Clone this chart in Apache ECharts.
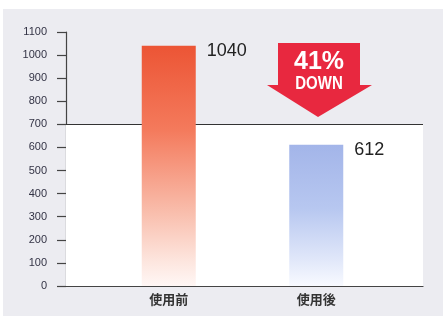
<!DOCTYPE html>
<html>
<head>
<meta charset="utf-8">
<script src="https://cdn.jsdelivr.net/npm/echarts@6/dist/echarts.min.js"></script>
<style>
html,body{margin:0;padding:0;background:#ffffff;}
#c{width:446px;height:316px;}
</style>
</head>
<body>
<div id="c"></div>
<script>
var categories = ['使用前', '使用後'];
var values = [1040, 612];
var yTicks = [0, 100, 200, 300, 400, 500, 600, 700, 800, 900, 1000, 1100];
var referenceLine = 700;
var badgeLines = ['41%', 'DOWN'];

var gradients = [
  {type:'linear', x:0, y:0, x2:0, y2:1, colorStops:[
    {offset:0, color:'#ec5535'}, {offset:0.35, color:'#f47a5c'},
    {offset:0.7, color:'#f9bfae'}, {offset:0.9, color:'#fde6df'}, {offset:1, color:'#fff7f5'}]},
  {type:'linear', x:0, y:0, x2:0, y2:1, colorStops:[
    {offset:0, color:'#a3b5e9'}, {offset:0.45, color:'#b7c7f0'},
    {offset:0.8, color:'#dfe6f9'}, {offset:1, color:'#f8faff'}]}
];

var chart = echarts.init(document.getElementById('c'), null, {renderer:'canvas'});
var T = 32, B = 30;
chart.setOption({
  animation: false,
  backgroundColor: '#ffffff',
  graphic: [
    {type:'rect', z:-10, shape:{x:3, y:9, width:440, height:307}, style:{fill:'#ececf1'}},
    {type:'polygon', z:10, shape:{points:[[278,43],[360,43],[360,85],[372,85],[318,117],[267,85],[278,85]]}, style:{fill:'#e8283f'}},
    {type:'text', z:11, x:319, y:62, style:{text:badgeLines[0], fill:'#ffffff', font:'bold 25px "Liberation Sans", Arial, sans-serif', align:'center', verticalAlign:'middle'}},
    {type:'text', z:11, x:319, y:84, scaleY:1.25, style:{text:badgeLines[1], fill:'#ffffff', font:'bold 15px "Liberation Sans", Arial, sans-serif', align:'center', verticalAlign:'middle'}}
  ],
  grid: [
    {left:66, right:23, top:T, bottom:B},
    {left:95, right:56, top:T, bottom:B}
  ],
  xAxis: [
    {gridIndex:0, type:'value', min:0, max:1, axisLine:{show:true, onZero:false, lineStyle:{color:'#444', width:1.2}}, axisTick:{show:false}, axisLabel:{show:false}, splitLine:{show:false}},
    {gridIndex:1, type:'category', data:categories, axisLine:{show:false}, axisTick:{show:false},
     axisLabel:{margin:7, color:'#333', fontSize:13, fontWeight:'bold', fontFamily:'"Noto Sans CJK JP", sans-serif'}}
  ],
  yAxis: [
    {gridIndex:0, type:'value', min:yTicks[0], max:yTicks[yTicks.length-1], interval:100,
     axisLine:{show:true, lineStyle:{color:'#444', width:1.2}},
     axisTick:{show:true, length:9, lineStyle:{color:'#444', width:1.2}},
     axisLabel:{margin:19, color:'#333345', fontSize:11, fontFamily:'"Liberation Sans", Arial, sans-serif',
       formatter:function(v){ return String(v); }},
     splitLine:{show:false}},
    {gridIndex:1, type:'value', min:yTicks[0], max:yTicks[yTicks.length-1], show:false, splitLine:{show:false}}
  ],
  series: [
    {type:'line', xAxisIndex:0, yAxisIndex:0, data:[], silent:true,
     markArea:{silent:true, itemStyle:{color:'#ffffff'}, data:[[{xAxis:0, yAxis:0},{xAxis:1, yAxis:referenceLine}]]},
     markLine:{silent:true, symbol:'none', label:{show:false}, lineStyle:{color:'#333', width:1.2, type:'solid'},
       data:[{yAxis:referenceLine}]}
    },
    {type:'bar', xAxisIndex:1, yAxisIndex:1, barWidth:54, z:5,
     data: values.map(function(v,i){ return {value:v, itemStyle:{color:gradients[i]}}; }),
     label:{show:true, position:[65,-4], color:'#222', fontSize:18, fontFamily:'"Liberation Sans", Arial, sans-serif'}
    }
  ]
});
</script>
</body>
</html>
